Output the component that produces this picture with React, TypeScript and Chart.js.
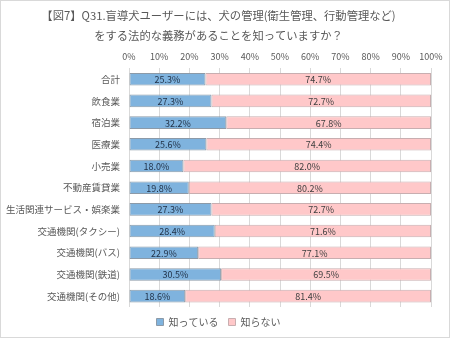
import React, { useEffect, useRef } from "react";
import { Chart, registerables } from "chart.js";

Chart.register(...registerables);

const titleLines = [
  "【図7】Q31.盲導犬ユーザーには、犬の管理(衛生管理、行動管理など)",
  "をする法的な義務があることを知っていますか？",
];
const categories = [
  "合計",
  "飲食業",
  "宿泊業",
  "医療業",
  "小売業",
  "不動産賃貸業",
  "生活関連サービス・娯楽業",
  "交通機関(タクシー)",
  "交通機関(バス)",
  "交通機関(鉄道)",
  "交通機関(その他)",
];
const knowValues = [25.3, 27.3, 32.2, 25.6, 18.0, 19.8, 27.3, 28.4, 22.9, 30.5, 18.6];
const dontKnowValues = [74.7, 72.7, 67.8, 74.4, 82.0, 80.2, 72.7, 71.6, 77.1, 69.5, 81.4];
const seriesNames = ["知っている", "知らない"];

const FONT = "'Noto Sans CJK JP', 'Liberation Sans', sans-serif";

const labelPlugin = {
  id: "barLabels",
  afterDatasetsDraw(chart: any) {
    const ctx = chart.ctx;
    ctx.save();
    ctx.font = `9px ${FONT}`;
    ctx.textAlign = "center";
    ctx.textBaseline = "middle";
    chart.data.datasets.forEach((ds: any, di: number) => {
      const meta = chart.getDatasetMeta(di);
      ctx.fillStyle = di === 0 ? "#1f2f45" : "#404040";
      meta.data.forEach((el: any, i: number) => {
        const x = (el.x + el.base) / 2;
        ctx.fillText(ds.data[i].toFixed(1) + "%", x, el.y + 0.5);
      });
    });
    ctx.restore();
  },
};

export default function App() {
  const ref = useRef<HTMLCanvasElement>(null);
  useEffect(() => {
    document.body.style.margin = "0";
    const chart = new Chart(ref.current!, {
      type: "bar",
      data: {
        labels: categories,
        datasets: [
          {
            label: seriesNames[0],
            data: knowValues,
            backgroundColor: "#7fb3de",
            borderColor: "#8c9aa8",
            borderWidth: 1,
            borderSkipped: false,
            barPercentage: 0.58,
            categoryPercentage: 1,
          },
          {
            label: seriesNames[1],
            data: dontKnowValues,
            backgroundColor: "#ffc8c9",
            borderColor: "#c8aeb0",
            borderWidth: 1,
            borderSkipped: false,
            barPercentage: 0.58,
            categoryPercentage: 1,
          },
        ],
      },
      options: {
        indexAxis: "y",
        animation: false,
        responsive: false,
        layout: { padding: { left: 5, right: 18, top: 3, bottom: 0 } },
        scales: {
          x: {
            position: "top",
            stacked: true,
            min: 0,
            max: 100,
            ticks: {
              stepSize: 10,
              callback: (v: any) => v + "%",
              color: "#595959",
              font: { family: FONT, size: 9 },
              maxRotation: 0,
              padding: 6,
            },
            grid: { color: "#d9d9d9", drawTicks: false },
            border: { display: false },
          },
          y: {
            stacked: true,
            afterFit: (axis: any) => {
              axis.width = 123;
            },
            ticks: {
              color: "#595959",
              font: { family: FONT, size: 9.5 },
              padding: 9,
            },
            grid: { display: false, drawTicks: false },
            border: { display: false },
          },
        },
        plugins: {
          title: {
            display: true,
            text: titleLines,
            color: "#595959",
            font: { family: FONT, size: 11.3, weight: "normal", lineHeight: 1.75 },
            padding: { top: 2, bottom: 0 },
          },
          legend: {
            position: "bottom",
            labels: {
              boxWidth: 7,
              boxHeight: 7,
              color: "#595959",
              font: { family: FONT, size: 10 },
              padding: 10,
            },
          },
          tooltip: { enabled: false },
        },
      },
      plugins: [labelPlugin],
    } as any);
    return () => chart.destroy();
  }, []);
  return (
    <div
      style={{
        position: "absolute",
        left: 0,
        top: 0,
        width: 448,
        height: 336,
        border: "1px solid #d9d9d9",
        background: "#fff",
      }}
    >
      <canvas ref={ref} width={448} height={336} />
    </div>
  );
}
